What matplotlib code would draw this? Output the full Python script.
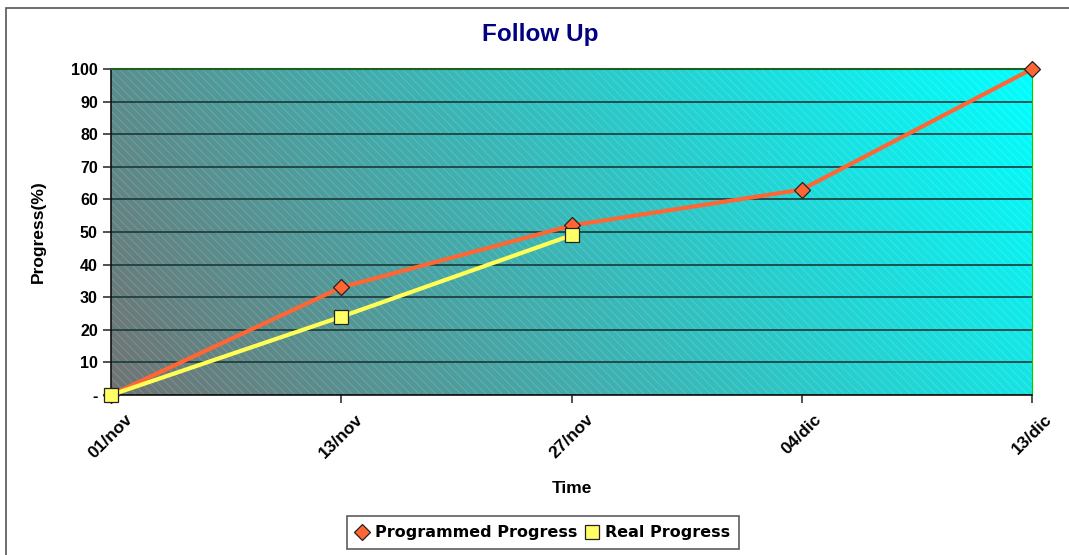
import matplotlib
matplotlib.use("Agg")
import matplotlib.pyplot as plt
import numpy as np
from matplotlib.patches import Rectangle

dates = ["01/nov", "13/nov", "27/nov", "04/dic", "13/dic"]
programmed = [0, 33, 52, 63, 100]
real = [0, 24, 49]

plt.rcParams['font.family'] = ['Liberation Sans', 'DejaVu Sans']
plt.rcParams['hatch.linewidth'] = 0.6

fig = plt.figure(figsize=(10.69, 5.55), dpi=100)
# marco exterior
fig.patches.append(Rectangle((6 / 1069, -0.1), 1.2, 1.1 - 8 / 555, transform=fig.transFigure,
                             fill=False, edgecolor='#555555', lw=1.2))
ax = fig.add_axes([111 / 1069, 1 - 395 / 555, 921 / 1069, 326 / 555])

x = np.arange(len(dates))
ax.set_xlim(0, len(dates) - 1)
ax.set_ylim(0, 100)

# fondo degradado
n = 200
gx, gy = np.meshgrid(np.linspace(0, 1, n), np.linspace(0, 1, n))
t = np.clip(0.8 * gx + 0.2 * gy, 0, 1)
c0 = np.array([0.44, 0.45, 0.45])
c1 = np.array([0.0, 1.0, 1.0])
img = c0 + (c1 - c0) * t[..., None]
ax.imshow(img, extent=[0, len(dates) - 1, 0, 100], origin='lower', aspect='auto', zorder=0)
ax.add_patch(Rectangle((0, 0), len(dates) - 1, 100, fill=False, hatch='\\\\\\\\',
                       edgecolor=(1, 1, 1, 0.18), lw=0, zorder=1))

ax.set_yticks(range(0, 101, 10))
ax.set_yticklabels(["-"] + [str(v) for v in range(10, 101, 10)])
ax.grid(axis='y', color='#1a3a3a', lw=1.2, zorder=2)
ax.set_xticks(x)
ax.set_xticklabels(dates, rotation=45)
for lab in ax.get_yticklabels():
    lab.set_fontweight('bold')
    lab.set_fontsize(11.5)
for lab in ax.get_xticklabels():
    lab.set_fontweight('bold')
    lab.set_fontsize(12.5)
ax.tick_params(axis='both', length=6, width=1.2, color='#333333')
ax.tick_params(axis='x', pad=6)

ax.plot(x, programmed, color='#FF6633', lw=3, marker='D', markersize=8,
        markerfacecolor='#FF6633', markeredgecolor='#222222', markeredgewidth=0.9,
        label='Programmed Progress', zorder=4, clip_on=False)
ax.plot(x[:len(real)], real, color='#FFFF55', lw=3, marker='s', markersize=10,
        markerfacecolor='#FFFF66', markeredgecolor='#222222', markeredgewidth=0.9,
        label='Real Progress', zorder=5, clip_on=False)

for s in ['left', 'bottom']:
    ax.spines[s].set_color('#111111')
    ax.spines[s].set_linewidth(1.2)
ax.spines['right'].set_color('#00CC00')
ax.spines['top'].set_color('#1f5f1f')
ax.spines['top'].set_linewidth(1.5)

fig.text(540 / 1069, 1 - 34 / 555, "Follow Up", color='#000080', fontweight='bold',
         fontsize=17.5, ha='center', va='center')
ax.set_xlabel("Time", fontweight='bold', fontsize=12.5, labelpad=14)
ax.set_ylabel("Progress(%)", fontweight='bold', fontsize=12.5, labelpad=18)

leg = fig.legend(loc='lower center', bbox_to_anchor=(543 / 1069, 6 / 555), ncol=2,
                 prop={'family': 'DejaVu Sans', 'weight': 'bold', 'size': 11.5},
                 frameon=True, fancybox=False, edgecolor='#333333', borderaxespad=0,
                 handlelength=0.8, handletextpad=0.4, columnspacing=0.5, borderpad=0.55)
leg.get_frame().set_linewidth(1.2)
for h in leg.legend_handles:
    h.set_linestyle('')

fig.savefig("out.png", dpi=100)
